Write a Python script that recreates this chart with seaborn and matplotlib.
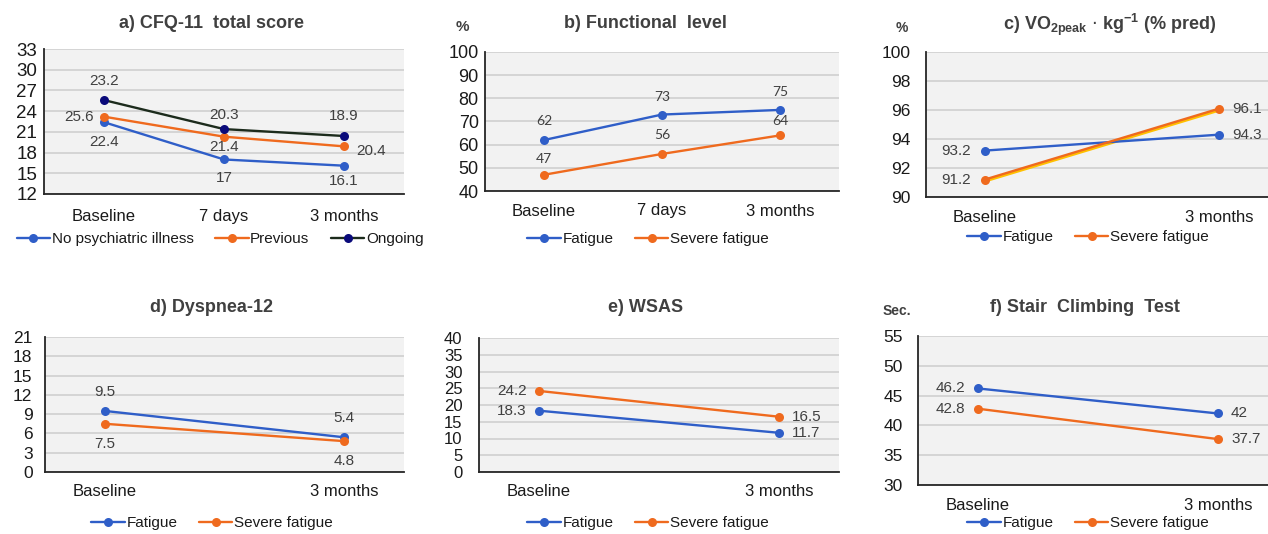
import matplotlib
matplotlib.use("Agg")
import matplotlib.pyplot as plt
import matplotlib.transforms as mtransforms
import numpy as np
import pandas as pd
import seaborn as sns

sns.set_theme(style="white")
plt.rcParams["font.family"] = ["Liberation Sans", "DejaVu Sans"]

W, H = 1268, 534

BLUE = "#2f5ec8"
ORANGE = "#ef6a1e"
NAVY = "#0a0a7a"
DARKGREEN = "#1c2b1c"
TXT = "#404040"

# ---- data ----
cats3 = ["Baseline", "7 days", "3 months"]
cats2 = ["Baseline", "3 months"]

# a) CFQ-11 total score
cfq_none = [22.4, 17.0, 16.1]
cfq_prev = [23.2, 20.3, 18.9]
cfq_ongoing = [25.6, 21.4, 20.4]
# label text as printed in the source figure
cfq_none_lbl = ["22.4", "17", "16.1"]
cfq_prev_lbl = ["25.6", "21.4", "20.4"]
cfq_ongoing_lbl = ["23.2", "20.3", "18.9"]

# b) Functional level
func_fat = [62, 73, 75]
func_sev = [47, 56, 64]

# c) VO2peak
vo2_fat = [93.2, 94.3]
vo2_sev = [91.2, 96.1]

# d) Dyspnea-12
dys_fat = [9.5, 5.4]
dys_sev = [7.5, 4.8]

# e) WSAS
wsas_fat = [18.3, 11.7]
wsas_sev = [24.2, 16.5]

# f) Stair climbing test
sct_fat = [46.2, 42.0]
sct_sev = [42.8, 37.7]


def px_axes(fig, l, t, r, b):
    return fig.add_axes([l / W, 1 - b / H, (r - l) / W, (b - t) / H])


def style_ax(ax, ylim, ystep, cats, ytick_size, ytick_pad, xpad):
    n = len(cats)
    ax.set_facecolor("#f2f2f2")
    ax.set_xlim(-0.25 * (n - 1) if n == 2 else -0.5, n - 1 + (0.25 if n == 2 else 0.5))
    ax.set_ylim(*ylim)
    ax.set_yticks(np.arange(ylim[0], ylim[1] + ystep / 2, ystep))
    ax.set_xticks(range(n))
    ax.set_xticklabels(cats)
    ax.yaxis.grid(True, color="#d2d2d2", lw=1.3)
    ax.set_axisbelow(True)
    for s in ["top", "right"]:
        ax.spines[s].set_visible(False)
    for s in ["left", "bottom"]:
        ax.spines[s].set_color("#262626")
        ax.spines[s].set_linewidth(1.3)
    ax.tick_params(axis="y", length=0, labelsize=ytick_size, pad=ytick_pad, labelcolor="#1a1a1a")
    ax.tick_params(axis="x", length=0, labelsize=12, pad=xpad, labelcolor="#1a1a1a")
    ax.set_xlabel("")
    ax.set_ylabel("")


def draw(ax, vals, color, label, mfc=None, lw=1.7):
    x = np.arange(len(vals))
    sns.lineplot(x=x, y=vals, ax=ax, color=color, lw=lw, marker="o",
                 markersize=6.5, markeredgewidth=0, markerfacecolor=mfc or color,
                 label=label, legend=False)


def annot(ax, vals, labels, offsets, size=11, family=None):
    for i, (v, t, (dx, dy, ha)) in enumerate(zip(vals, labels, offsets)):
        kw = {}
        if family:
            kw["family"] = family
        ax.annotate(t, (i, v), xytext=(dx * 0.72, dy * 0.72), textcoords="offset points",
                    ha=ha, va="center", fontsize=size, color=TXT, **kw)


def legend(fig, ax, cx, cy, ncol):
    h, l = ax.get_legend_handles_labels()
    fig.legend(h, l, loc="center", bbox_to_anchor=(cx / W, 1 - cy / H),
               ncol=ncol, frameon=False, fontsize=11, handlelength=2.2,
               handletextpad=0.1, columnspacing=1.4, labelcolor="#1a1a1a")


def title(fig, x, y, s):
    fig.text(x / W, 1 - y / H, s, ha="center", va="center",
             fontsize=13, fontweight="bold", color=TXT)


fig = plt.figure(figsize=(W / 100, H / 100), dpi=100)

# a)
ax = px_axes(fig, 44, 49, 404, 194)
draw(ax, cfq_none, BLUE, "No psychiatric illness")
draw(ax, cfq_prev, ORANGE, "Previous")
draw(ax, cfq_ongoing, DARKGREEN, "Ongoing", mfc=NAVY)
style_ax(ax, (12, 33), 3, cats3, 13.5, 5, 11)
annot(ax, cfq_ongoing, cfq_ongoing_lbl, [(0, 19, "center"), (0, 14, "center"), (0, 20, "center")])
annot(ax, cfq_prev, cfq_prev_lbl, [(-10, 0, "right"), (0, -10, "center"), (12, -5, "left")])
annot(ax, cfq_none, cfq_none_lbl, [(0, -20, "center"), (0, -19, "center"), (0, -15, "center")])
legend(fig, ax, 220, 239, 3)
title(fig, 212, 24, "a) CFQ-11  total score")

# b)
ax = px_axes(fig, 485, 52, 839, 191)
draw(ax, func_fat, BLUE, "Fatigue")
draw(ax, func_sev, ORANGE, "Severe fatigue")
style_ax(ax, (40, 100), 10, cats3, 13, 4.5, 9)
annot(ax, func_fat, [str(v) for v in func_fat], [(0, 19, "center"), (0, 18, "center"), (0, 18, "center")], size=10, family="Lato")
annot(ax, func_sev, [str(v) for v in func_sev], [(0, 16, "center"), (0, 19, "center"), (0, 14, "center")], size=10, family="Lato")
legend(fig, ax, 648, 239, 2)
title(fig, 645, 23, "b) Functional  level")
fig.text(462 / W, 1 - 27 / H, "%", ha="center", va="center", fontsize=11, fontweight="bold", color=TXT)

# c)
ax = px_axes(fig, 926, 52, 1278, 197)
# yellow fringe just below the orange line
shift = mtransforms.offset_copy(ax.transData, fig=fig, x=0, y=-1.2, units="points")
ax.plot(np.arange(len(vo2_sev)), vo2_sev, color="#ffc000", lw=2.0, transform=shift)
draw(ax, vo2_fat, BLUE, "Fatigue")
draw(ax, vo2_sev, ORANGE, "Severe fatigue")
style_ax(ax, (90, 100), 2, cats2, 12.5, 11, 9)
annot(ax, vo2_fat, ["93.2", "94.3"], [(-14, 0, "right"), (13, 0, "left")])
annot(ax, vo2_sev, ["91.2", "96.1"], [(-14, 0, "right"), (13, 0, "left")])
legend(fig, ax, 1088, 237, 2)
title(fig, 1110, 25, r"c) VO$_{\mathregular{2peak}}$ $\cdot$ kg$^{\mathregular{-1}}$ (% pred)")
fig.text(902 / W, 1 - 28 / H, "%", ha="center", va="center", fontsize=10, fontweight="bold", color=TXT)

# d)
ax = px_axes(fig, 45, 337, 404, 472)
draw(ax, dys_fat, BLUE, "Fatigue")
draw(ax, dys_sev, ORANGE, "Severe fatigue")
style_ax(ax, (0, 21), 3, cats2, 12.5, 9, 9)
annot(ax, dys_fat, ["9.5", "5.4"], [(0, 19, "center"), (0, 19, "center")])
annot(ax, dys_sev, ["7.5", "4.8"], [(0, -20, "center"), (0, -20, "center")])
legend(fig, ax, 212, 523, 2)
title(fig, 212, 307, "d) Dyspnea-12")

# e)
ax = px_axes(fig, 479, 338, 839, 472)
draw(ax, wsas_fat, BLUE, "Fatigue")
draw(ax, wsas_sev, ORANGE, "Severe fatigue")
style_ax(ax, (0, 40), 5, cats2, 12, 12, 9)
annot(ax, wsas_fat, ["18.3", "11.7"], [(-12, 0, "right"), (13, 0, "left")])
annot(ax, wsas_sev, ["24.2", "16.5"], [(-12, 0, "right"), (13, 0, "left")])
legend(fig, ax, 648, 523, 2)
title(fig, 646, 308, "e) WSAS")

# f)
ax = px_axes(fig, 918, 336, 1278, 485)
draw(ax, sct_fat, BLUE, "Fatigue")
draw(ax, sct_sev, ORANGE, "Severe fatigue")
style_ax(ax, (30, 55), 5, cats2, 12.5, 11, 9)
annot(ax, sct_fat, ["46.2", "42"], [(-13, 0, "right"), (13, 0, "left")])
annot(ax, sct_sev, ["42.8", "37.7"], [(-13, 0, "right"), (13, 0, "left")])
legend(fig, ax, 1088, 523, 2)
title(fig, 1085, 307, "f) Stair  Climbing  Test")
fig.text(897 / W, 1 - 311 / H, "Sec.", ha="center", va="center", fontsize=10, fontweight="bold", color=TXT)

fig.savefig("out.png", dpi=100, facecolor="white")
